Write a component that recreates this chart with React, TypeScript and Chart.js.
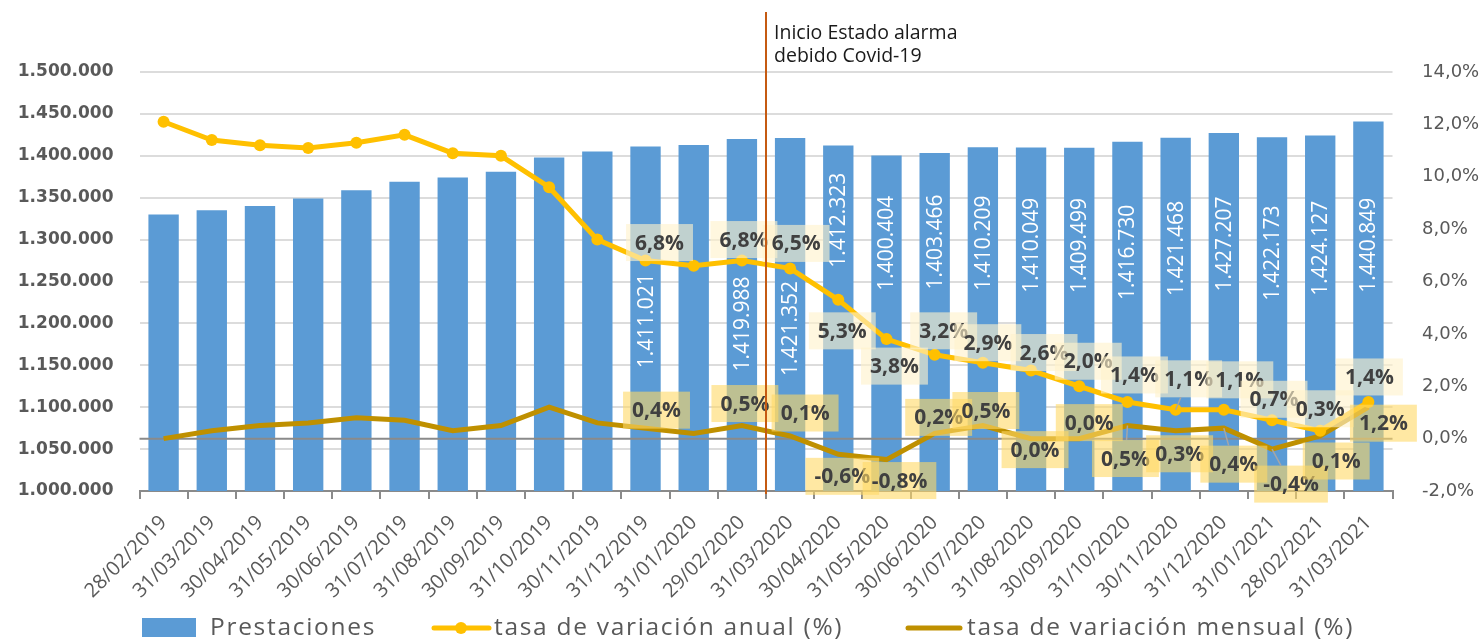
import React, { useEffect, useRef } from 'react';
import { Chart, registerables } from 'chart.js';

Chart.register(...registerables);

// ---------- DATA ----------
const categories = [
  '28/02/2019', '31/03/2019', '30/04/2019', '31/05/2019', '30/06/2019', '31/07/2019',
  '31/08/2019', '30/09/2019', '31/10/2019', '30/11/2019', '31/12/2019', '31/01/2020',
  '29/02/2020', '31/03/2020', '30/04/2020', '31/05/2020', '30/06/2020', '31/07/2020',
  '31/08/2020', '30/09/2020', '31/10/2020', '30/11/2020', '31/12/2020', '31/01/2021',
  '28/02/2021', '31/03/2021',
];

const prestaciones = [
  1330000, 1335000, 1340000, 1349000, 1359000, 1369000, 1374000, 1381000, 1398000, 1405000,
  1411021, 1413000, 1419988, 1421352, 1412323, 1400404, 1403466, 1410209, 1410049, 1409499,
  1416730, 1421468, 1427207, 1422173, 1424127, 1440849,
];

const tasaAnual = [
  12.1, 11.4, 11.2, 11.1, 11.3, 11.6, 10.9, 10.8, 9.6, 7.6,
  6.8, 6.6, 6.8, 6.5, 5.3, 3.8, 3.2, 2.9, 2.6, 2.0,
  1.4, 1.1, 1.1, 0.7, 0.3, 1.4,
];

const tasaMensual = [
  0.0, 0.3, 0.5, 0.6, 0.8, 0.7, 0.3, 0.5, 1.2, 0.6,
  0.4, 0.2, 0.5, 0.1, -0.6, -0.8, 0.2, 0.5, 0.0, 0.0,
  0.5, 0.3, 0.4, -0.4, 0.1, 1.2,
];

const leftTicks = { min: 1000000, max: 1500000, step: 50000 };
const rightTicks = { min: -2, max: 14, step: 2 };

const seriesNames = ['Prestaciones', 'tasa de variación anual (%)', 'tasa de variación mensual (%)'];
const annotationLines = ['Inicio Estado alarma', 'debido Covid-19'];
const annotationAfterIndex = 12; // line drawn between 29/02/2020 and 31/03/2020

// ---------- LABEL LAYOUT (pixel offsets, null = no label) ----------
const barLabelShift: (number | null)[] = [
  null, null, null, null, null, null, null, null, null, null,
  2, null, 9, 14, -98, -80, -80, -76, -74, -74,
  -64, -66, -68, -61, -65, -61,
];
const annualLabelOffset: ([number, number] | null)[] = [
  null, null, null, null, null, null, null, null, null, null,
  [14, -18], null, [2, -21], [6, -25], [4, 31], [8, 27], [9, -24], [5, -20], [13, -18], [9, -25],
  [7, -27], [13, -31], [16, -30], [2, -21], [0, -22], [1, -25],
];
const monthlyLabelOffset: ([number, number] | null)[] = [
  null, null, null, null, null, null, null, null, null, null,
  [11, -18], null, [3, -22], [15, -23], [4, 22], [13, 21], [4, -16], [3, -15], [4, 11], [10, -16],
  [-2, 33], [4, 23], [10, 36], [19, 35], [16, 25], [15, 16],
];
const annualLeader = [21];
const monthlyLeader = [20, 22, 23];

// ---------- COLORS ----------
const BLUE = '#5b9bd5';
const YELLOW = '#ffc000';
const GOLD = '#bf9000';
const AXIS_TEXT = '#595959';

const fmtThousands = (n: number) => String(Math.round(n)).replace(/\B(?=(\d{3})+(?!\d))/g, '.');
const fmtPct = (v: number) => v.toFixed(1).replace('.', ',') + '%';

function drawLabelBox(ctx: CanvasRenderingContext2D, px: number, py: number, off: [number, number], text: string, fill: string, leader: boolean) {
  ctx.font = 'bold 21px "Open Sans"';
  const w = ctx.measureText(text).width + 18;
  const h = 37;
  const cx = px + off[0];
  const cy = py + off[1];
  ctx.fillStyle = fill;
  ctx.fillRect(cx - w / 2, cy - h / 2, w, h);
  if (leader) {
    const dx = px - cx;
    const dy = py - cy;
    const s = Math.min(Math.abs(dx) > 0.01 ? (w / 2) / Math.abs(dx) : 1e9, Math.abs(dy) > 0.01 ? (h / 2) / Math.abs(dy) : 1e9);
    if (s < 1) {
      ctx.strokeStyle = '#a6a6a6';
      ctx.lineWidth = 1.5;
      ctx.beginPath();
      ctx.moveTo(cx + dx * s, cy + dy * s);
      ctx.lineTo(px, py);
      ctx.stroke();
    }
  }
  ctx.fillStyle = '#404040';
  ctx.textAlign = 'center';
  ctx.textBaseline = 'middle';
  ctx.fillText(text, cx, cy + 1);
}

// legend text: Open Sans with letter spacing when supported, else DejaVu Sans (same width)
function setLegendFont(ctx: CanvasRenderingContext2D) {
  const c: any = ctx;
  if ('letterSpacing' in c) {
    ctx.font = '24.5px "Open Sans"';
    c.letterSpacing = '1.7px';
  } else {
    ctx.font = '25.5px "DejaVu Sans"';
  }
}

const overlayPlugin = {
  id: 'overlay',
  afterDatasetDraw(chart: any, args: any) {
    if (args.index !== 0) return;
    const ctx: CanvasRenderingContext2D = chart.ctx;
    const ca = chart.chartArea;
    const xs = chart.scales.x;
    const ys = chart.scales.y;
    const y0 = chart.scales.y1.getPixelForValue(0);
    ctx.save();
    ctx.strokeStyle = '#8a8a8a';
    ctx.lineWidth = 2;
    ctx.beginPath();
    ctx.moveTo(ca.left, y0);
    ctx.lineTo(ca.right, y0);
    ctx.stroke();
    // bar value labels
    ctx.font = '21px "Open Sans"';
    ctx.textAlign = 'center';
    ctx.textBaseline = 'middle';
    for (let i = 0; i < prestaciones.length; i++) {
      const shift = barLabelShift[i];
      if (shift === null || shift === undefined) continue;
      const bx = xs.getPixelForValue(i);
      const top = ys.getPixelForValue(prestaciones[i]);
      const bottom = ys.getPixelForValue(leftTicks.min);
      const cy = (top + bottom) / 2 + shift;
      ctx.save();
      ctx.translate(bx, cy);
      ctx.rotate(-Math.PI / 2);
      ctx.fillStyle = '#ffffff';
      ctx.fillText(fmtThousands(prestaciones[i]), 0, 1);
      ctx.restore();
    }
    ctx.restore();
  },
  afterDatasetsDraw(chart: any) {
    const ctx: CanvasRenderingContext2D = chart.ctx;
    const xs = chart.scales.x;
    const y1 = chart.scales.y1;
    ctx.save();
    for (let i = 0; i < categories.length; i++) {
      const px = xs.getPixelForValue(i);
      const mo = monthlyLabelOffset[i];
      if (mo) {
        drawLabelBox(ctx, px, y1.getPixelForValue(tasaMensual[i]), mo, fmtPct(tasaMensual[i]), 'rgba(255,217,102,0.6)', monthlyLeader.includes(i));
      }
      const ao = annualLabelOffset[i];
      if (ao) {
        drawLabelBox(ctx, px, y1.getPixelForValue(tasaAnual[i]), ao, fmtPct(tasaAnual[i]), 'rgba(255,242,204,0.62)', annualLeader.includes(i));
      }
    }
    ctx.restore();
  },
  afterDraw(chart: any) {
    const ctx: CanvasRenderingContext2D = chart.ctx;
    const ca = chart.chartArea;
    const x = chart.scales.x.getPixelForValue(annotationAfterIndex + 0.5);
    ctx.save();
    ctx.strokeStyle = '#c55a11';
    ctx.lineWidth = 2;
    ctx.beginPath();
    ctx.moveTo(x, 12);
    ctx.lineTo(x, ca.bottom + 3);
    ctx.stroke();
    ctx.fillStyle = '#1a1a1a';
    ctx.font = '19.5px "Open Sans"';
    ctx.textAlign = 'left';
    ctx.textBaseline = 'alphabetic';
    ctx.fillText(annotationLines[0], x + 8, 39);
    ctx.fillText(annotationLines[1], x + 8, 62);

    // legend
    const ly = 628;
    ctx.fillStyle = BLUE;
    ctx.fillRect(142, 618, 54, 19);

    ctx.strokeStyle = YELLOW;
    ctx.lineWidth = 5;
    ctx.lineCap = 'round';
    ctx.beginPath();
    ctx.moveTo(434, ly);
    ctx.lineTo(489, ly);
    ctx.stroke();
    ctx.fillStyle = YELLOW;
    ctx.beginPath();
    ctx.arc(461, ly, 6, 0, Math.PI * 2);
    ctx.fill();

    ctx.strokeStyle = GOLD;
    ctx.beginPath();
    ctx.moveTo(908, ly);
    ctx.lineTo(960, ly);
    ctx.stroke();

    setLegendFont(ctx);
    ctx.textBaseline = 'middle';
    ctx.fillStyle = AXIS_TEXT;
    ctx.fillText(seriesNames[0], 210, ly);
    ctx.fillText(seriesNames[1], 494, ly);
    ctx.fillText(seriesNames[2], 967, ly);
    ctx.restore();
  },
};

export default function App() {
  const ref = useRef<HTMLCanvasElement>(null);
  useEffect(() => {
    document.body.style.margin = '0';
    const chart = new Chart(ref.current as HTMLCanvasElement, {
      type: 'bar',
      data: {
        labels: categories,
        datasets: [
          {
            type: 'bar',
            label: seriesNames[0],
            data: prestaciones,
            backgroundColor: BLUE,
            yAxisID: 'y',
            order: 3,
            barPercentage: 0.63,
            categoryPercentage: 1,
          },
          {
            type: 'line',
            label: seriesNames[1],
            data: tasaAnual,
            borderColor: YELLOW,
            backgroundColor: YELLOW,
            borderWidth: 5,
            pointRadius: 6,
            pointBackgroundColor: YELLOW,
            pointBorderColor: YELLOW,
            pointBorderWidth: 0,
            yAxisID: 'y1',
            order: 1,
            tension: 0,
          },
          {
            type: 'line',
            label: seriesNames[2],
            data: tasaMensual,
            borderColor: GOLD,
            backgroundColor: GOLD,
            borderWidth: 5,
            pointRadius: 0,
            yAxisID: 'y1',
            order: 2,
            tension: 0,
          },
        ],
      } as any,
      options: {
        responsive: false,
        animation: false,
        layout: { padding: { top: 72, left: 0, right: 0, bottom: 0 } },
        plugins: { legend: { display: false }, tooltip: { enabled: false } },
        scales: {
          x: {
            offset: true,
            grid: { display: true, drawOnChartArea: false, drawTicks: true, tickLength: 8, color: '#8a8a8a', lineWidth: 2, offset: true },
            border: { display: true, color: '#8a8a8a', width: 2 },
            ticks: {
              autoSkip: false,
              maxRotation: 45,
              minRotation: 45,
              color: AXIS_TEXT,
              font: { family: 'Open Sans', size: 20 },
              padding: 12,
            },
            afterFit: (s: any) => { s.height = 153; },
          },
          y: {
            position: 'left',
            min: leftTicks.min,
            max: leftTicks.max,
            ticks: {
              stepSize: leftTicks.step,
              color: AXIS_TEXT,
              font: { family: 'DejaVu Sans', size: 17, weight: 'bold' },
              padding: 26,
              callback: (v: any) => fmtThousands(Number(v)),
            },
            grid: { color: '#dcdcdc', lineWidth: 2, drawTicks: false },
            border: { display: false },
            afterFit: (s: any) => { s.width = 139.5; },
          },
          y1: {
            position: 'right',
            min: rightTicks.min,
            max: rightTicks.max,
            ticks: {
              stepSize: rightTicks.step,
              color: AXIS_TEXT,
              font: { family: 'DejaVu Sans', size: 18 },
              padding: 29.5,
              callback: (v: any) => fmtPct(Number(v)),
            },
            grid: { display: false, drawTicks: false },
            border: { display: false },
            afterFit: (s: any) => { s.width = 88.5; },
          },
        },
      } as any,
      plugins: [overlayPlugin],
    });
    return () => chart.destroy();
  }, []);
  return (
    <div style={{ width: 1481, height: 644, overflow: 'hidden' }}>
      <canvas ref={ref} width={1481} height={644} style={{ display: 'block' }} />
    </div>
  );
}
